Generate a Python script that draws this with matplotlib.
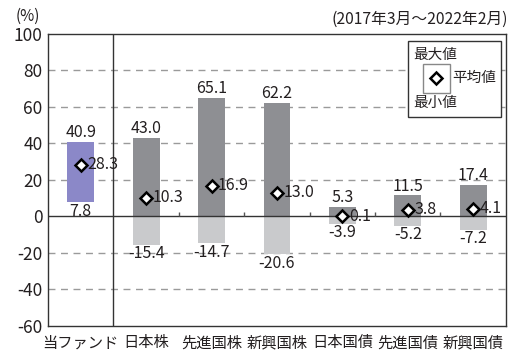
import matplotlib
matplotlib.use("Agg")
import matplotlib.pyplot as plt
import numpy as np
from matplotlib.patches import Rectangle

plt.rcParams['font.family'] = ['Noto Sans CJK JP', 'DejaVu Sans']

categories = ['当ファンド', '日本株', '先進国株', '新興国株', '日本国債', '先進国債', '新興国債']
max_vals = [40.9, 43.0, 65.1, 62.2, 5.3, 11.5, 17.4]
avg_vals = [28.3, 10.3, 16.9, 13.0, 0.1, 3.8, 4.1]
min_vals = [7.8, -15.4, -14.7, -20.6, -3.9, -5.2, -7.2]
yticks = [-60, -40, -20, 0, 20, 40, 60, 80, 100]

purple = '#8b88c8'
dark = '#8e8f93'
light = '#c9cacc'
txt = '#231f20'

fig = plt.figure(figsize=(5.22, 3.58), dpi=100)
ax = fig.add_axes([0.092, 0.0894, 0.877, 0.816])

n = len(categories)
x = np.arange(n)
w = 0.41
fs = 11.5

for i in range(n):
    mx, av, mn = max_vals[i], avg_vals[i], min_vals[i]
    if i == 0:
        ax.bar(x[i], mx - mn, bottom=mn, width=w, color=purple, zorder=2)
    else:
        ax.bar(x[i], mx, bottom=0, width=w, color=dark, zorder=2)
        ax.bar(x[i], mn, bottom=0, width=w, color=light, zorder=2)
    ax.plot(x[i], av, marker='D', markersize=6, markerfacecolor='white',
            markeredgecolor='black', markeredgewidth=1.8, zorder=4)
    ax.text(x[i] + 0.1, av, f'{av:.1f}', ha='left', va='center', fontsize=fs, color=txt, zorder=5)
    ax.text(x[i], mx + 0.5, f'{mx:.1f}', ha='center', va='bottom', fontsize=fs, color=txt, zorder=5)
    ax.text(x[i], mn - 0.3, f'{mn:.1f}', ha='center', va='top', fontsize=fs, color=txt, zorder=5)

ax.set_xlim(-0.5, n - 0.5)
ax.set_ylim(-60, 100)
ax.set_yticks(yticks)
ax.set_yticklabels([str(v) for v in yticks], fontsize=12.5, color=txt)
ax.set_xticks(x)
ax.set_xticklabels(categories, fontsize=11, color=txt)
ax.tick_params(axis='y', length=0, pad=4)
ax.tick_params(axis='x', length=0, pad=6)

for v in yticks:
    if v not in (0, -60, 100):
        ax.axhline(v, color='#9a9a9a', lw=1.0, ls=(0, (5, 4)), zorder=1)
ax.axhline(0, color='#333333', lw=1.0, zorder=3)
ax.axvline(0.5, color='#333333', lw=1.0, zorder=3)
ax.vlines(np.arange(1.5, n - 0.5), 0, 2.2, color='#555555', lw=1.0, zorder=3)

for s in ax.spines.values():
    s.set_color('#333333')
    s.set_linewidth(1.0)

fig.text(0.03, 0.955, '(%)', fontsize=11, color=txt, ha='left', va='center')
fig.text(0.973, 0.945, '(2017年3月～2022年2月)', fontsize=11.3, color=txt, ha='right', va='center')

# legend
ax.add_patch(Rectangle((0.786, 0.716), 0.203, 0.26, transform=ax.transAxes,
                       facecolor='white', edgecolor='#333333', lw=1.0, zorder=6))
ax.add_patch(Rectangle((0.819, 0.798), 0.059, 0.099, transform=ax.transAxes,
                       facecolor='white', edgecolor='#888888', lw=1.0, zorder=7))
ax.plot([0.8485], [0.8475], transform=ax.transAxes, marker='D', markersize=6,
        markerfacecolor='white', markeredgecolor='black', markeredgewidth=1.8, zorder=8)
ax.text(0.797, 0.928, '最大値', transform=ax.transAxes, fontsize=10.5, color=txt, ha='left', va='center', zorder=8)
ax.text(0.883, 0.848, '平均値', transform=ax.transAxes, fontsize=10.5, color=txt, ha='left', va='center', zorder=8)
ax.text(0.797, 0.762, '最小値', transform=ax.transAxes, fontsize=10.5, color=txt, ha='left', va='center', zorder=8)

fig.savefig('out.png', dpi=100)
